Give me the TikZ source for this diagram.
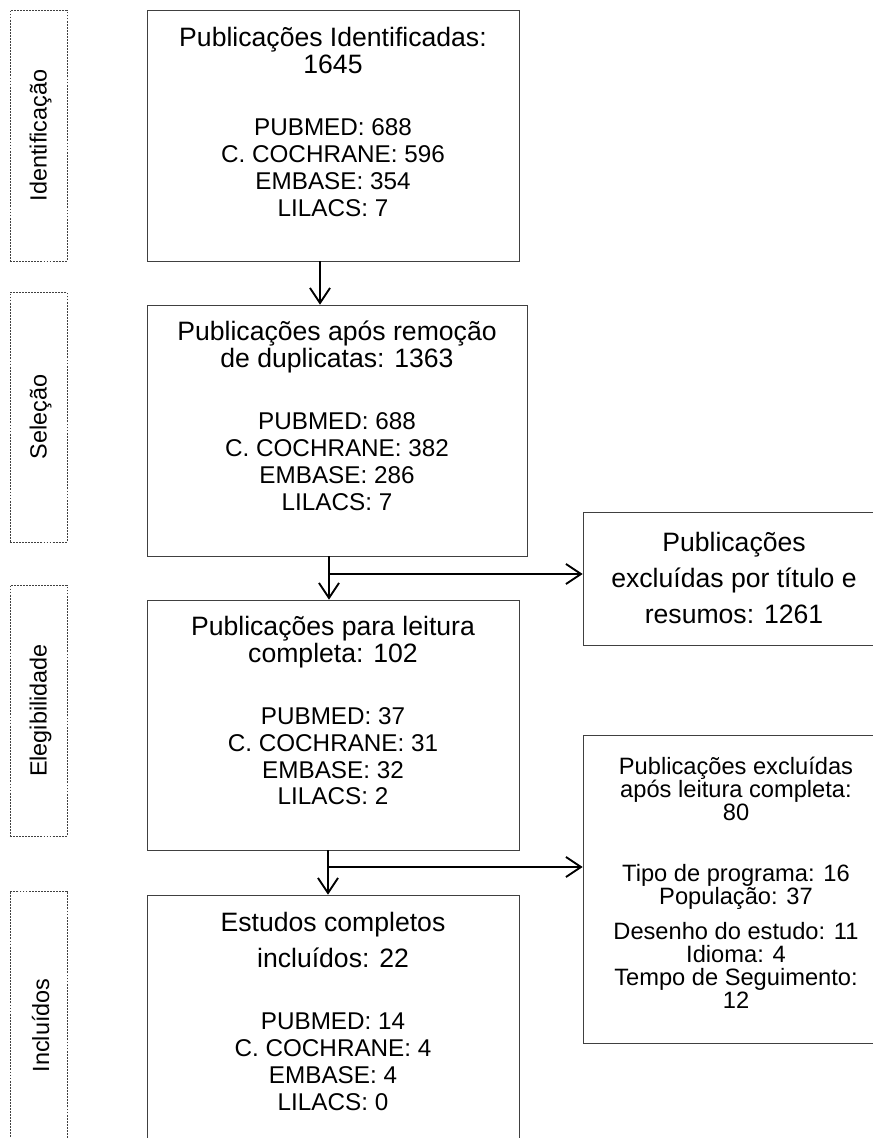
\documentclass[tikz,border=0pt]{standalone}
\usepackage{fontspec}
\setmainfont{Liberation Sans}
\usetikzlibrary{arrows.meta,positioning}
\newcommand{\titulo}[1]{{\fontsize{22.7}{23}\selectfont #1}}

\begin{document}
\begin{tikzpicture}[x=0.03cm, y=-0.03cm,
        caixa/.style={draw=black!75, line width=0.6pt, inner sep=0pt},
        fase/.style={draw=black!75, line width=0.5pt, dash pattern=on 1.6pt off 1pt, inner sep=0pt, minimum width=1.71cm},
        txt/.style={align=center, font=\fontsize{20.7}{23}\selectfont, inner sep=0pt},
        seta/.style={-{Straight Barb[length=0.45cm, width=0.6cm]}, line width=1.6pt}]
        \useasboundingbox (0,0) rectangle (873,1138);
        \clip (0,0) rectangle (873,1138);
        % Fases
        \node[fase, minimum height=7.53cm] (fase1) at (38.5,135.5) {};
        \node[fase, minimum height=7.5cm]  (fase2) at (38.5,417)   {};
        \node[fase, minimum height=7.53cm] (fase3) at (38.5,710.5) {};
        \node[fase, minimum height=8.07cm] (fase4) at (38.5,1025.5) {};
        \node[txt, font=\fontsize{20}{23}\selectfont, rotate=90] (fase1txt) at ([xshift=0.06cm]fase1) {Identificação};
        \node[txt, font=\fontsize{20}{23}\selectfont, rotate=90] (fase2txt) at ([xshift=0.06cm]fase2) {Seleção};
        \node[txt, font=\fontsize{20}{23}\selectfont, rotate=90] (fase3txt) at ([xshift=0.06cm]fase3) {Elegibilidade};
        \node[txt, font=\fontsize{20}{23}\selectfont, rotate=90] (fase4txt) at ([xshift=0.06cm]fase4) {Incluídos};
        % Caixas principais
        \node[caixa, minimum width=11.16cm, minimum height=7.53cm] (ident) at (333,135.5)  {};
        \node[caixa, minimum width=11.4cm,  minimum height=7.53cm] (sel)   at (337,430.5)  {};
        \node[caixa, minimum width=11.16cm, minimum height=7.5cm]  (eleg)  at (333,725)    {};
        \node[caixa, minimum width=11.16cm, minimum height=7.95cm] (incl)  at (333,1027.5) {};
        \node[caixa, minimum width=9.06cm,  minimum height=3.99cm] (exc1)  at (734,578.5)  {};
        \node[caixa, minimum width=9.15cm,  minimum height=9.24cm] (exc2)  at (735.5,889)  {};
        % Textos
        \node[txt] (identtxt) at (333,122) {\titulo{Publicações Identificadas:}\\\titulo{1645}\\[30pt]
            PUBMED: 688\\C. COCHRANE: 596\\EMBASE: 354\\LILACS: 7};
        \node[txt] (seltxt) at (337,415.5) {\titulo{Publicações após remoção}\\\titulo{de duplicatas: 1363}\\[30pt]
            PUBMED: 688\\C. COCHRANE: 382\\EMBASE: 286\\LILACS: 7};
        \node[txt] (elegtxt) at (333,710.5) {\titulo{Publicações para leitura}\\\titulo{completa: 102}\\[30pt]
            PUBMED: 37\\C. COCHRANE: 31\\EMBASE: 32\\LILACS: 2};
        \node[txt] (incltxt) at (333,1011.5) {\titulo{Estudos completos}\\[8pt]\titulo{incluídos: 22}\\[30pt]
            PUBMED: 14\\C. COCHRANE: 4\\EMBASE: 4\\LILACS: 0};
        \node[txt] (exc1txt) at (734,578) {\titulo{Publicações}\\[7.5pt]\titulo{excluídas por título e}\\[7.5pt]\titulo{resumos: 1261}};
        \node[txt, font=\fontsize{20.2}{19.5}\selectfont] (exc2txt) at (736,882.5) {Publicações excluídas\\após leitura completa:\\80\\[33pt]
            Tipo de programa: 16\\População: 37\\[10.5pt]Desenho do estudo: 11\\Idioma: 4\\Tempo de Seguimento:\\12};
        % Setas
        \coordinate (ramo1) at (329,574);
        \coordinate (ramo2) at (328,867);
        \draw[seta] (ident.south -| 320,0) -- (sel.north -| 320,0);
        \draw[seta] (sel.south -| ramo1) -- (eleg.north -| ramo1);
        \draw[seta] (ramo1) -- (ramo1 -| exc1.west);
        \draw[seta] (eleg.south -| ramo2) -- (incl.north -| ramo2);
        \draw[seta] (ramo2) -- (ramo2 -| exc2.west);
    \end{tikzpicture}
\end{document}
